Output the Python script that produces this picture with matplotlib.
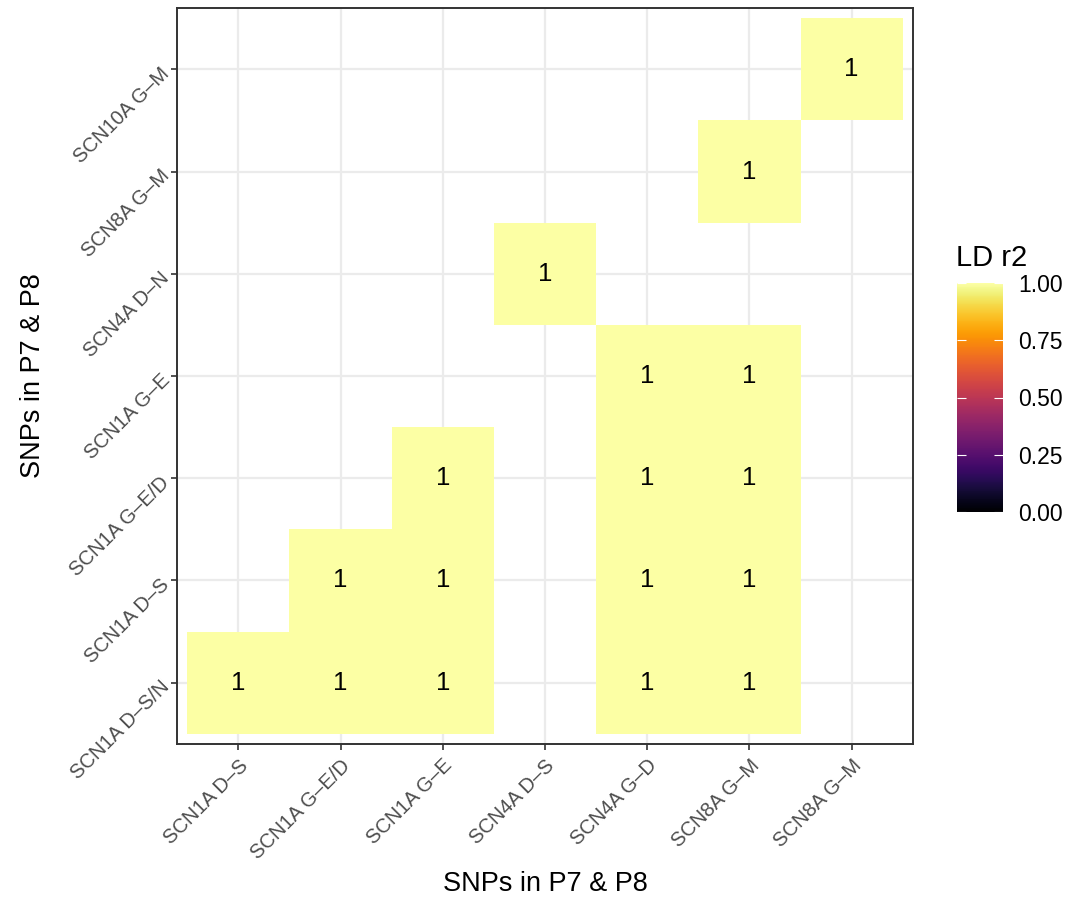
import numpy as np
import matplotlib
matplotlib.use("Agg")
import matplotlib.pyplot as plt

plt.rcParams['font.family'] = ['Liberation Sans', 'DejaVu Sans']

# SNP labels (x: columns, y: rows from bottom)
x_labels = ['SCN1A D–S', 'SCN1A G–E/D', 'SCN1A G–E', 'SCN4A D–S',
            'SCN4A G–D', 'SCN8A G–M', 'SCN8A G–M']
y_labels = ['SCN1A D–S/N', 'SCN1A D–S', 'SCN1A G–E/D', 'SCN1A G–E',
            'SCN4A D–N', 'SCN8A G–M', 'SCN10A G–M']

# LD pairs: column index, row index, r2
pair_x = [0, 1, 2, 4, 5, 1, 2, 4, 5, 2, 4, 5, 4, 5, 3, 5, 6]
pair_y = [0, 0, 0, 0, 0, 1, 1, 1, 1, 2, 2, 2, 3, 3, 4, 5, 6]
pair_r2 = [1, 1, 1, 1, 1, 1, 1, 1, 1, 1, 1, 1, 1, 1, 1, 1, 1]

grid = np.full((len(y_labels), len(x_labels)), np.nan)
for xi, yi, v in zip(pair_x, pair_y, pair_r2):
    grid[yi, xi] = v

fig = plt.figure(figsize=(10.71, 9.11), dpi=100)
ax = fig.add_axes([177/1071, 1 - 744/911, 736/1071, 736/911])

edges_x = np.arange(len(x_labels) + 1) - 0.5
edges_y = np.arange(len(y_labels) + 1) - 0.5
mesh = ax.pcolormesh(edges_x, edges_y, np.ma.masked_invalid(grid),
                     cmap='inferno', vmin=0, vmax=1, zorder=1)

for xi, yi, v in zip(pair_x, pair_y, pair_r2):
    ax.text(xi, yi, f'{v:g}', ha='center', va='center', fontsize=18.5, color='black', zorder=3)

ax.set_xlim(-0.6, len(x_labels) - 0.4)
ax.set_ylim(-0.6, len(y_labels) - 0.4)
ax.set_xticks(range(len(x_labels)))
ax.set_yticks(range(len(y_labels)))
ax.set_xticklabels(x_labels, rotation=45, ha='right', rotation_mode='anchor')
ax.set_yticklabels(y_labels, rotation=45, ha='right', rotation_mode='anchor')
ax.tick_params(colors='#333333', labelcolor='#4D4D4D', labelsize=14.5, length=4.5, width=1.2, pad=4)
ax.grid(True, color='#EBEBEB', linewidth=1.6, zorder=0)
ax.set_axisbelow(True)
for s in ax.spines.values():
    s.set_color('#333333')
    s.set_linewidth(1.4)

ax.set_xlabel('SNPs in P7 & P8', fontsize=19.5, labelpad=6)
ax.set_ylabel('SNPs in P7 & P8', fontsize=19.5, labelpad=15)

# colour bar
cax = fig.add_axes([957/1071, 1 - 512/911, 46/1071, 229/911])
cb = fig.colorbar(mesh, cax=cax, ticks=[0, 0.25, 0.5, 0.75, 1.0])
cb.outline.set_visible(False)
cb.ax.set_yticklabels(['0.00', '0.25', '0.50', '0.75', '1.00'])
cb.ax.tick_params(left=True, right=True, direction='in', color='white',
                  length=6.5, width=0.8, labelsize=16.5, labelcolor='black', pad=11)
cax.text(-0.02, 1.05, 'LD r2', transform=cax.transAxes, fontsize=21, ha='left', va='bottom')

fig.savefig('out.png', dpi=100)
